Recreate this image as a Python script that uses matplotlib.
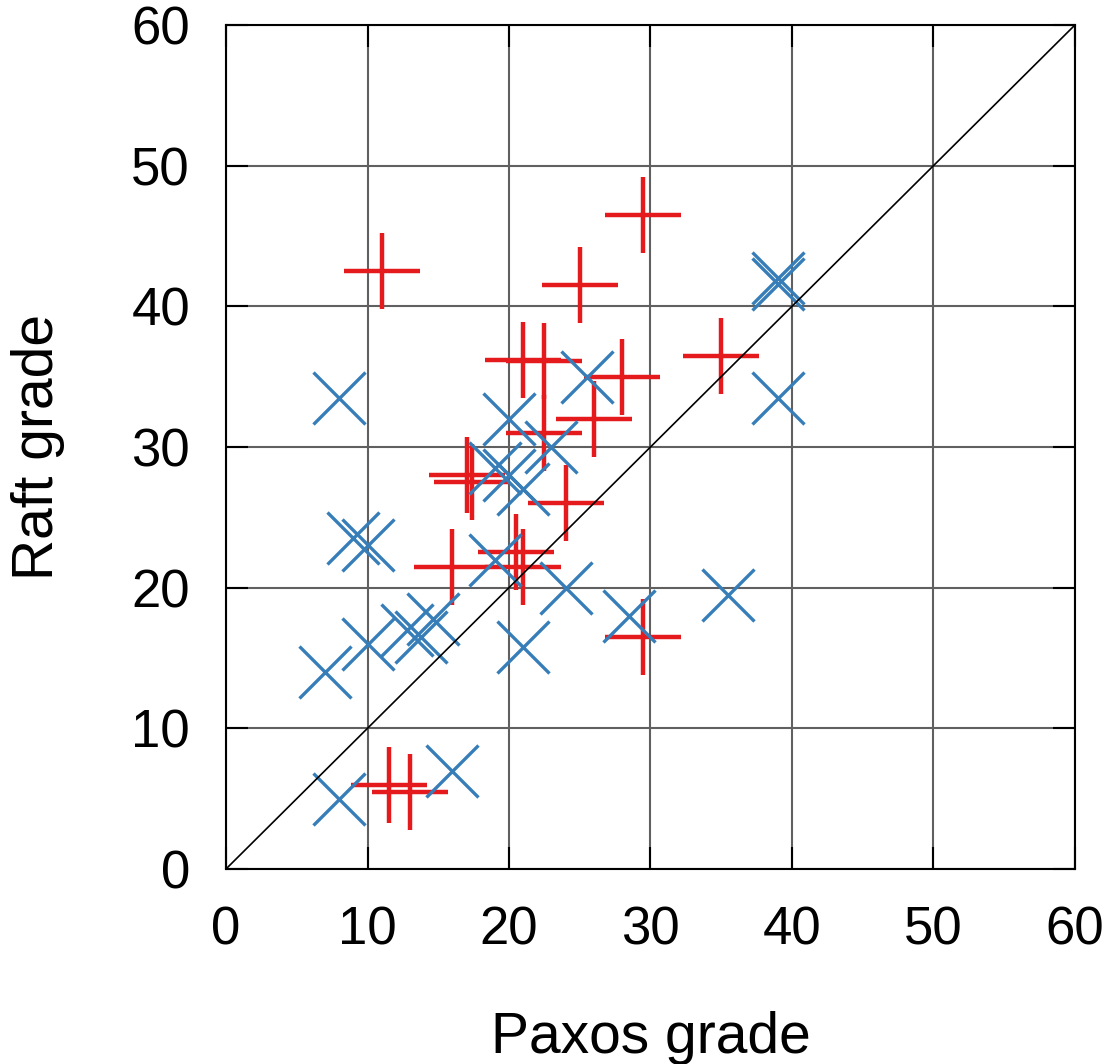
import matplotlib
matplotlib.use('Agg')
import matplotlib.pyplot as plt

plt.rcParams['font.family'] = ['Liberation Sans', 'DejaVu Sans']

RED = '#e41a1c'
BLUE = '#377eb8'

# red "+" points (paxos grade, raft grade)
red_paxos = [29.5, 11.0, 25.0, 21.0, 22.5, 22.5, 28.0, 26.0, 35.0, 17.0, 17.4,
             24.0, 16.0, 20.5, 21.0, 29.5, 11.5, 13.0]
red_raft = [46.5, 42.5, 41.5, 36.2, 36.1, 31.0, 35.0, 32.0, 36.5, 28.0, 27.5,
            26.0, 21.5, 22.5, 21.5, 16.5, 6.0, 5.5]

# blue "x" points
blue_paxos = [8.0, 9.0, 10.0, 7.0, 10.0, 12.8, 13.8, 14.6, 8.0, 16.0, 19.0,
              24.0, 21.0, 28.5, 35.5, 39.0, 39.0, 39.0, 25.5, 20.0, 23.0,
              19.0, 20.0, 21.0]
blue_raft = [33.5, 23.5, 23.0, 14.0, 16.0, 17.0, 16.5, 17.8, 5.0, 7.0, 22.0,
             20.0, 15.8, 18.0, 19.5, 33.5, 41.6, 42.0, 35.0, 32.0, 30.0,
             28.5, 28.0, 27.0]

ticks = [0, 10, 20, 30, 40, 50, 60]

fig = plt.figure(figsize=(11.09, 10.64), dpi=100)
ax = fig.add_axes([0.2038, 0.1833, 0.7655, 0.7932])

ax.plot(red_paxos, red_raft, linestyle='none', marker='+', color=RED,
        markersize=55, markeredgewidth=3.2, zorder=3)
ax.plot(blue_paxos, blue_raft, linestyle='none', marker='x', color=BLUE,
        markersize=38, markeredgewidth=2.4, zorder=4)
ax.plot([0, 60], [0, 60], color='black', linewidth=1.2, zorder=5)

ax.set_xlim(0, 60); ax.set_ylim(0, 60)
ax.set_xticks(ticks); ax.set_yticks(ticks)
ax.grid(True, color='#606060', linewidth=1.5)
ax.set_axisbelow(True)
ax.tick_params(direction='in', length=16, width=1.5, labelsize=38, pad=26,
               top=True, right=True)
for s in ax.spines.values():
    s.set_linewidth(1.5); s.set_zorder(6)

ax.set_xlabel('Paxos grade', fontsize=41, labelpad=40)
ax.set_ylabel('Raft grade', fontsize=41, labelpad=48)

fig.savefig('out.png', dpi=100, facecolor='white')
